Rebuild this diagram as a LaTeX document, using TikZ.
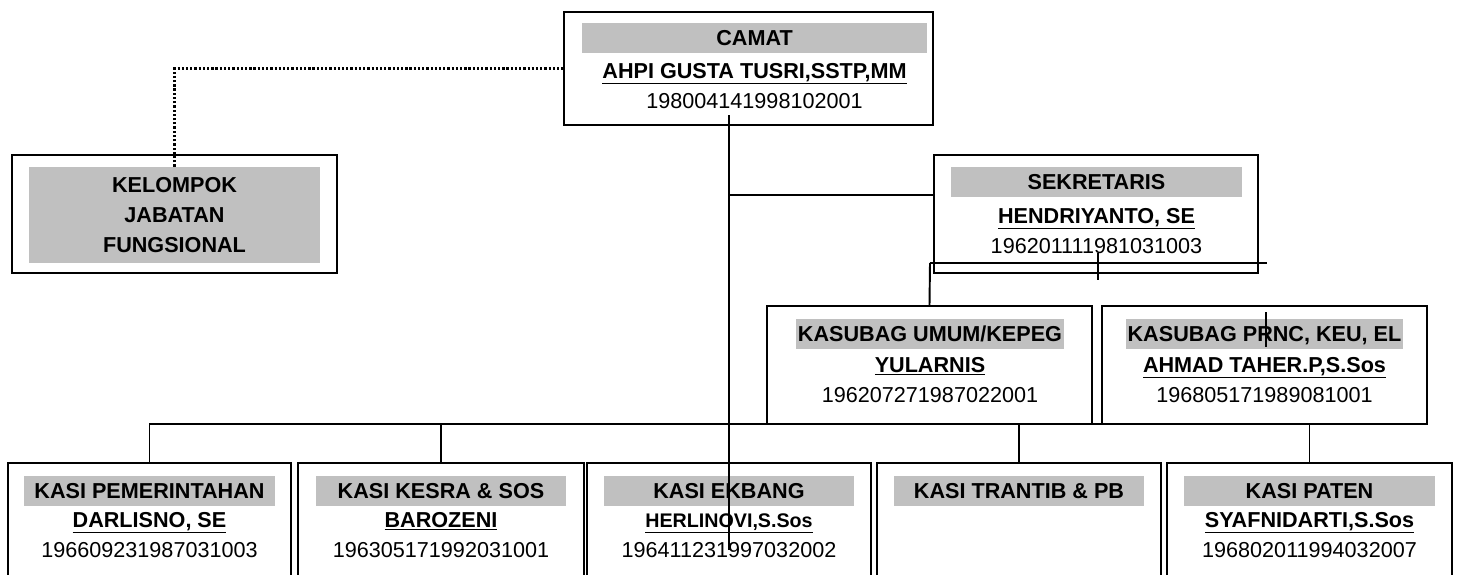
\documentclass[tikz,border=0pt]{standalone}
\usepackage{fontspec}
\setmainfont{Liberation Sans}
\usetikzlibrary{positioning}
\definecolor{bandgray}{RGB}{192,192,192}

\tikzset{
  unitbox/.style={draw,line width=1.1pt},
  band/.style={fill=bandgray,minimum height=0.6cm,text height=8.8pt,text depth=0pt,
    font=\fontsize{12.3}{17.3}\selectfont\bfseries},
  nm/.style={anchor=base,font=\fontsize{12.3}{17.3}\selectfont\bfseries},
  nip/.style={anchor=base},
  link/.style={line width=1.1pt},
  dotline/.style={line width=1.3pt,dash pattern=on 1.3pt off 1.1pt}
}

\begin{document}
\begin{tikzpicture}[x=0.02cm,y=-0.02cm,
  every node/.style={inner sep=0pt,font=\fontsize{12.3}{17.3}\selectfont}]
\useasboundingbox (0,0) rectangle (1458,575);
\clip (0,0) rectangle (1458,575);
%
% camat
\node[unitbox,minimum width=7.38cm,minimum height=2.26cm] (camat) at (748.5,68.5) {};
\node[band,minimum width=6.9cm] (camatT) at (754.5,38) {CAMAT};
\node[nm] (camatN) at (754.5,78) {\underline{AHPI GUSTA TUSRI,SSTP,MM}};
\node[nip] (camatP) at (754.5,108) {198004141998102001};
%
% kelompok jabatan fungsional
\node[unitbox,minimum width=6.5cm,minimum height=2.36cm] (kjf) at (174.5,214) {};
\node[fill=bandgray,minimum width=5.82cm,minimum height=1.92cm,align=center,
  font=\fontsize{12.3}{17.3}\selectfont\bfseries] (kjfT) at (174.5,215) {KELOMPOK\\JABATAN\\FUNGSIONAL};
%
% sekretaris
\node[unitbox,minimum width=6.48cm,minimum height=2.36cm] (sekr) at (1096,214) {};
\node[band,minimum width=5.82cm] (sekrT) at (1096.5,182) {SEKRETARIS};
\node[nm] (sekrN) at (1096.5,223) {\underline{HENDRIYANTO, SE}};
\node[nip] (sekrP) at (1096.5,253) {196201111981031003};
%
% kasubag
\node[unitbox,minimum width=6.5cm,minimum height=2.36cm] (kumum) at (929.5,365) {};
\node[band,minimum width=5.36cm] (kumumT) at (930,333.5) {KASUBAG UMUM/KEPEG};
\node[nm] (kumumN) at (930,372) {\underline{YULARNIS}};
\node[nip] (kumumP) at (930,402) {196207271987022001};
\node[unitbox,minimum width=6.5cm,minimum height=2.36cm] (kprnc) at (1264.5,365) {};
\node[band,minimum width=5.54cm] (kprncT) at (1264.5,333.5) {KASUBAG PRNC, KEU, EL};
\node[nm] (kprncN) at (1264.5,372) {\underline{AHMAD TAHER.P,S.Sos}};
\node[nip] (kprncP) at (1264.5,402) {196805171989081001};
%
% kasi
\foreach \id/\cx/\w/\ttl/\who/\num in {
  kpem/149.5/5.66/{KASI PEMERINTAHAN}/{DARLISNO, SE}/196609231987031003,
  kkesra/441/5.72/{KASI KESRA \& SOS}/BAROZENI/196305171992031001,
  kekbang/729/5.68/{KASI EKBANG}/{\fontsize{11.2}{13}\selectfont HERLINOVI,S.Sos}/196411231997032002,
  ktrantib/1019/5.68/{KASI TRANTIB \& PB}/{}/{},
  kpaten/1309.5/5.7/{KASI PATEN}/{SYAFNIDARTI,S.Sos}/196802011994032007}
{
  \node[unitbox,minimum width=\w cm,minimum height=2.74cm] (\id) at (\cx,531.5) {};
  \node[band,minimum width=5.02cm] (\id T) at (\cx,491) {\ttl};
  \node[nm] (\id N) at (\cx,527) {\underline{\who}};
  \node[nip] (\id P) at (\cx,557) {\num};
}
%
\coordinate (camatA) at (729,115);
\coordinate (camatZ) at (729,550);
\coordinate (jSekr) at (729,195);
\coordinate (sekrL) at (930,263);
\coordinate (sekrR) at (1267,263);
\coordinate (sekrA) at (1098,253);
\coordinate (sekrZ) at (1098,280);
\coordinate (kprncA) at (1266,312);
\coordinate (kprncZ) at (1266,347);
\coordinate (bus) at (0,424);
%
\draw[dotline] (kjfT.north) |- (camat.west);
\draw[link] (camatA) -- (camatZ);
\draw[link] (jSekr) -- (jSekr -| sekr.west);
\draw[link] (sekrL) -- (sekrR) (sekrA) -- (sekrZ);
\draw[link] (sekrL) -- (kumum.north);
\draw[link] (kprncA) -- (kprncZ);
\draw[link] (kpem.north) -- (kpem.north |- bus) -| (kpaten.north);
\draw[link] (kkesra.north) -- (kkesra.north |- bus);
\draw[link] (ktrantib.north) -- (ktrantib.north |- bus);
\end{tikzpicture}
\end{document}
